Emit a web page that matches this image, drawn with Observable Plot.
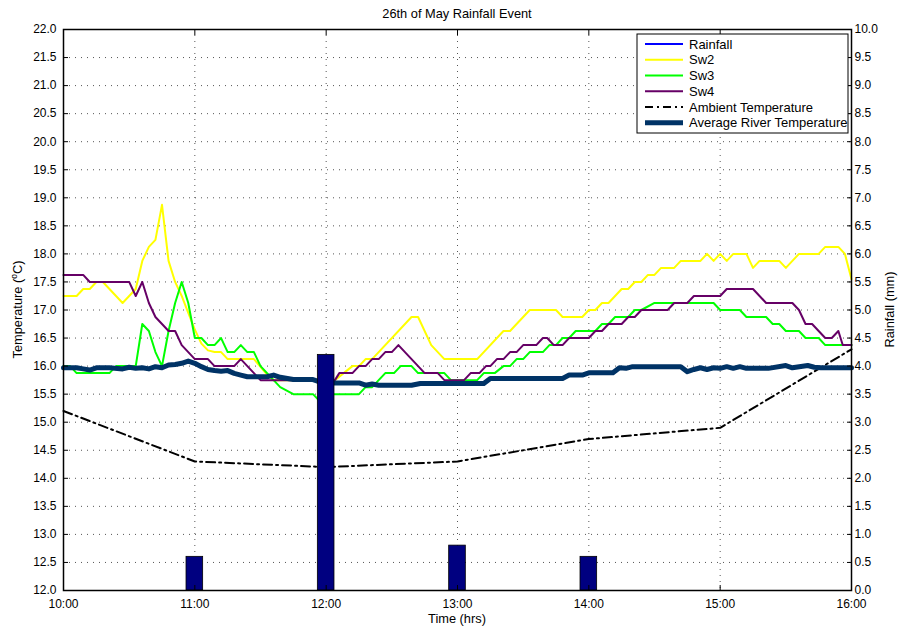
<!DOCTYPE html>
<html><head><meta charset="utf-8">
<script src="https://cdn.jsdelivr.net/npm/d3@7"></script>
<script src="https://cdn.jsdelivr.net/npm/@observablehq/plot@0.6"></script>
<style>
html,body{margin:0;padding:0;background:#fff;}
#chart{width:901px;height:629px;}
</style></head><body><div id="chart"></div>
<script>
// ---- data (minutes after 10:00) ----
const hourTicks = [0, 60, 120, 180, 240, 300, 360];
const hourLabels = ["10:00", "11:00", "12:00", "13:00", "14:00", "15:00", "16:00"];
const tempTicks = [12.0,12.5,13.0,13.5,14.0,14.5,15.0,15.5,16.0,16.5,17.0,17.5,18.0,18.5,19.0,19.5,20.0,20.5,21.0,21.5,22.0];
const rainTickLabels = ["0.0","0.5","1.0","1.5","2.0","2.5","3.0","3.5","4.0","4.5","5.0","5.5","6.0","6.5","7.0","7.5","8.0","8.5","9.0","9.5","10.0"];

const rainTimes = [60, 120, 180, 240];
const rainValues = [0.6, 4.2, 0.8, 0.6];

const ambientTimes = [0, 60, 120, 180, 240, 300, 360];
const ambientValues = [15.2, 14.3, 14.2, 14.3, 14.7, 14.9, 16.3];

const sw2 = [[0,17.25],[6,17.25],[9,17.375],[12,17.375],[15,17.5],[18,17.5],[21,17.375],[24,17.25],[27,17.125],[30,17.25],[33,17.375],[36,17.875],[39,18.125],[42,18.25],[45,18.875],[48,17.875],[51,17.5],[54,17.25],[57,16.95],[60,16.65],[63,16.4],[66,16.28],[69,16.25],[72,16.25],[75,16.125],[87,16.125],[93,15.85],[96,15.75],[124,15.75],[128,15.875],[132,16.0],[135,16.0],[138,16.125],[141,16.125],[159,16.875],[162,16.875],[168,16.375],[174,16.125],[189,16.125],[201,16.625],[204,16.625],[213,17.0],[225,17.0],[228,16.875],[237,16.875],[240,17.0],[243,17.0],[246,17.125],[249,17.125],[255,17.375],[258,17.375],[261,17.5],[264,17.5],[267,17.625],[270,17.625],[273,17.75],[279,17.75],[282,17.875],[291,17.875],[294,18.0],[297,17.875],[300,18.0],[303,17.875],[306,18.0],[312,18.0],[315,17.75],[318,17.875],[327,17.875],[330,17.75],[336,18.0],[345,18.0],[348,18.125],[354,18.125],[357,18.0],[360,17.55]];

const sw3 = [[0,16.0],[3,16.0],[6,15.875],[21,15.875],[24,16.0],[33,16.0],[36,16.75],[39,16.625],[42,16.25],[45,16.0],[48,16.625],[51,17.125],[54,17.5],[57,17.125],[60,16.5],[63,16.5],[66,16.375],[69,16.375],[72,16.5],[75,16.25],[78,16.25],[81,16.375],[84,16.25],[87,16.25],[90,16.0],[93,15.875],[96,15.75],[99,15.625],[105,15.5],[114,15.5],[117,15.375],[120,15.5],[124,15.5],[135,15.5],[138,15.625],[141,15.625],[147,15.875],[151,15.875],[154,16.0],[159,16.0],[162,15.875],[174,15.875],[177,15.75],[189,15.75],[192,15.875],[197,15.875],[201,16.0],[204,16.0],[207,16.125],[210,16.125],[213,16.25],[219,16.25],[222,16.375],[225,16.375],[228,16.5],[231,16.5],[234,16.625],[243,16.625],[246,16.75],[249,16.75],[252,16.875],[258,16.875],[261,17.0],[264,17.0],[270,17.125],[297,17.125],[300,17.0],[309,17.0],[312,16.875],[321,16.875],[324,16.75],[327,16.75],[330,16.625],[336,16.625],[339,16.5],[345,16.5],[348,16.375],[360,16.375]];

const sw4 = [[0,17.625],[9,17.625],[12,17.5],[30,17.5],[33,17.25],[36,17.5],[39,17.125],[42,16.875],[45,16.75],[48,16.625],[51,16.625],[54,16.375],[57,16.25],[60,16.125],[66,16.125],[69,16.0],[78,16.0],[81,16.125],[84,16.0],[87,15.875],[90,15.75],[124,15.75],[126,15.875],[132,15.875],[135,16.0],[138,16.0],[141,16.125],[144,16.125],[147,16.25],[150,16.25],[153,16.375],[159,16.125],[165,15.875],[171,15.875],[174,15.75],[183,15.75],[186,15.875],[190,15.875],[193,16.0],[195,16.0],[198,16.125],[201,16.125],[204,16.25],[207,16.25],[210,16.375],[216,16.375],[219,16.5],[221,16.5],[224,16.375],[228,16.375],[231,16.5],[240,16.5],[243,16.625],[246,16.625],[249,16.75],[255,16.75],[258,16.875],[261,16.875],[264,17.0],[276,17.0],[279,17.125],[285,17.125],[288,17.25],[300,17.25],[303,17.375],[315,17.375],[321,17.125],[333,17.125],[336,17.0],[339,16.75],[342,16.75],[348,16.5],[351,16.5],[354,16.625],[356,16.375],[360,16.375]];

const river = [[0,15.97],[6,15.97],[9,15.95],[12,15.93],[15,15.97],[21,15.97],[27,15.95],[30,15.98],[33,15.96],[36,15.97],[39,15.95],[42,15.99],[45,15.97],[48,16.02],[51,16.03],[54,16.05],[57,16.09],[60,16.05],[63,15.99],[66,15.94],[69,15.92],[72,15.91],[75,15.92],[78,15.87],[81,15.84],[84,15.81],[93,15.81],[96,15.84],[99,15.8],[105,15.76],[114,15.76],[117,15.72],[120,15.7],[135,15.7],[138,15.66],[141,15.68],[144,15.66],[159,15.66],[163,15.69],[192,15.69],[195,15.78],[228,15.78],[231,15.84],[237,15.84],[240,15.88],[251,15.88],[254,15.97],[257,15.96],[260,15.99],[282,15.99],[285,15.9],[288,15.94],[291,15.97],[294,15.94],[297,15.97],[300,15.96],[303,15.99],[306,15.96],[309,15.99],[312,15.96],[322,15.96],[330,16.01],[333,15.97],[340,16.01],[343,15.98],[346,15.97],[360,15.97]];

// ---- build tables ----
const rainBase = 12; // rainfall 0 mm aligns with 12 °C (both axes span 10 units)
const rain = rainTimes.map((t, i) => ({t, r: rainValues[i]}));
const ambient = ambientTimes.map((t, i) => [t, ambientValues[i]]);
const barHalf = 3.8;

const W = 901, H = 629, mL = 63, mR = 50, mT = 29, mB = 39;
const font = "'Liberation Sans', Arial, Helvetica, sans-serif";
const grid = {stroke: "#555", strokeOpacity: 1, strokeDasharray: "1,5", strokeWidth: 1};
const px = d => d[0], py = d => d[1];

const plot = Plot.plot({
  width: W, height: H,
  marginLeft: mL, marginRight: mR, marginTop: mT, marginBottom: mB,
  style: {fontFamily: font, fontSize: "12px", color: "#000", background: "#fff", overflow: "visible"},
  x: {domain: [0, 360]},
  y: {domain: [12, 22]},
  marks: [
    Plot.gridX(hourTicks, grid),
    Plot.gridY(tempTicks, grid),
    Plot.line(ambient, {x: px, y: py, stroke: "#000", strokeWidth: 2, strokeDasharray: "9,4,2,4"}),
    Plot.line(sw2, {x: px, y: py, stroke: "#ffff00", strokeWidth: 2}),
    Plot.line(sw3, {x: px, y: py, stroke: "#00ff00", strokeWidth: 2}),
    Plot.line(sw4, {x: px, y: py, stroke: "#660066", strokeWidth: 2}),
    Plot.line(river, {x: px, y: py, stroke: "#003366", strokeWidth: 5}),
    Plot.rect(rain, {x1: d => d.t - barHalf, x2: d => d.t + barHalf, y1: d => rainBase, y2: d => rainBase + d.r,
      fill: "#000080", stroke: "#000", strokeWidth: 0.8}),
    Plot.frame({stroke: "#000", strokeWidth: 1.5}),
    Plot.axisY(tempTicks, {anchor: "left", tickSize: -5, tickPadding: 12, tickFormat: d => d.toFixed(1), label: null}),
    Plot.axisY(tempTicks, {anchor: "right", tickSize: -5, tickPadding: 8, tickFormat: (d, i) => rainTickLabels[i], label: null}),
    Plot.axisX(hourTicks, {anchor: "bottom", tickSize: -5, tickPadding: 14, tickFormat: (d, i) => hourLabels[i], label: null}),
    Plot.axisX(hourTicks, {anchor: "top", tickSize: -5, tickFormat: () => "", label: null})
  ]
});
document.getElementById("chart").appendChild(plot);

// ---- titles, axis labels and legend ----
const svg = d3.select(plot);
const cx = mL + (W - mL - mR) / 2;
const cy = mT + (H - mT - mB) / 2;
const tg = svg.append("g").attr("font-family", font).attr("font-size", 12.8).attr("fill", "#000");
tg.append("text").attr("x", cx).attr("y", 18).attr("text-anchor", "middle").text("26th of May Rainfall Event");
tg.append("text").attr("x", cx).attr("y", 623).attr("text-anchor", "middle").text("Time (hrs)");
const yl = tg.append("text").attr("transform", `translate(22,${cy}) rotate(-90)`).attr("text-anchor", "middle");
yl.append("tspan").text("Temperature (");
yl.append("tspan").attr("font-size", 8.5).attr("dy", -5).text("o");
yl.append("tspan").attr("dy", 5).text("C)");
tg.append("text").attr("transform", `translate(894,${cy}) rotate(-90)`).attr("text-anchor", "middle").text("Rainfall (mm)");

const legendItems = [
  {label: "Rainfall", stroke: "#0000ff", width: 2, dash: null},
  {label: "Sw2", stroke: "#ffff00", width: 2, dash: null},
  {label: "Sw3", stroke: "#00ff00", width: 2, dash: null},
  {label: "Sw4", stroke: "#660066", width: 2, dash: null},
  {label: "Ambient Temperature", stroke: "#000", width: 2, dash: "8,4,2,4"},
  {label: "Average River Temperature", stroke: "#003366", width: 5, dash: null}
];
const lg = svg.append("g").attr("font-family", font).attr("font-size", 13).attr("text-anchor", "start");
const lx = 637, ly = 34, lw = 211, lh = 99, rowH = 15.75;
lg.append("rect").attr("x", lx).attr("y", ly).attr("width", lw).attr("height", lh)
  .attr("fill", "#fff").attr("stroke", "#000").attr("stroke-width", 1);
legendItems.forEach((it, i) => {
  const y = ly + 10 + i * rowH;
  const ln = lg.append("line").attr("x1", lx + 8).attr("x2", lx + 46).attr("y1", y).attr("y2", y)
    .attr("stroke", it.stroke).attr("stroke-width", it.width);
  if (it.dash) ln.attr("stroke-dasharray", it.dash);
  lg.append("text").attr("x", lx + 52).attr("y", y).attr("dy", "0.35em").attr("text-anchor", "start").attr("fill", "#000").text(it.label);
});
</script></body></html>
